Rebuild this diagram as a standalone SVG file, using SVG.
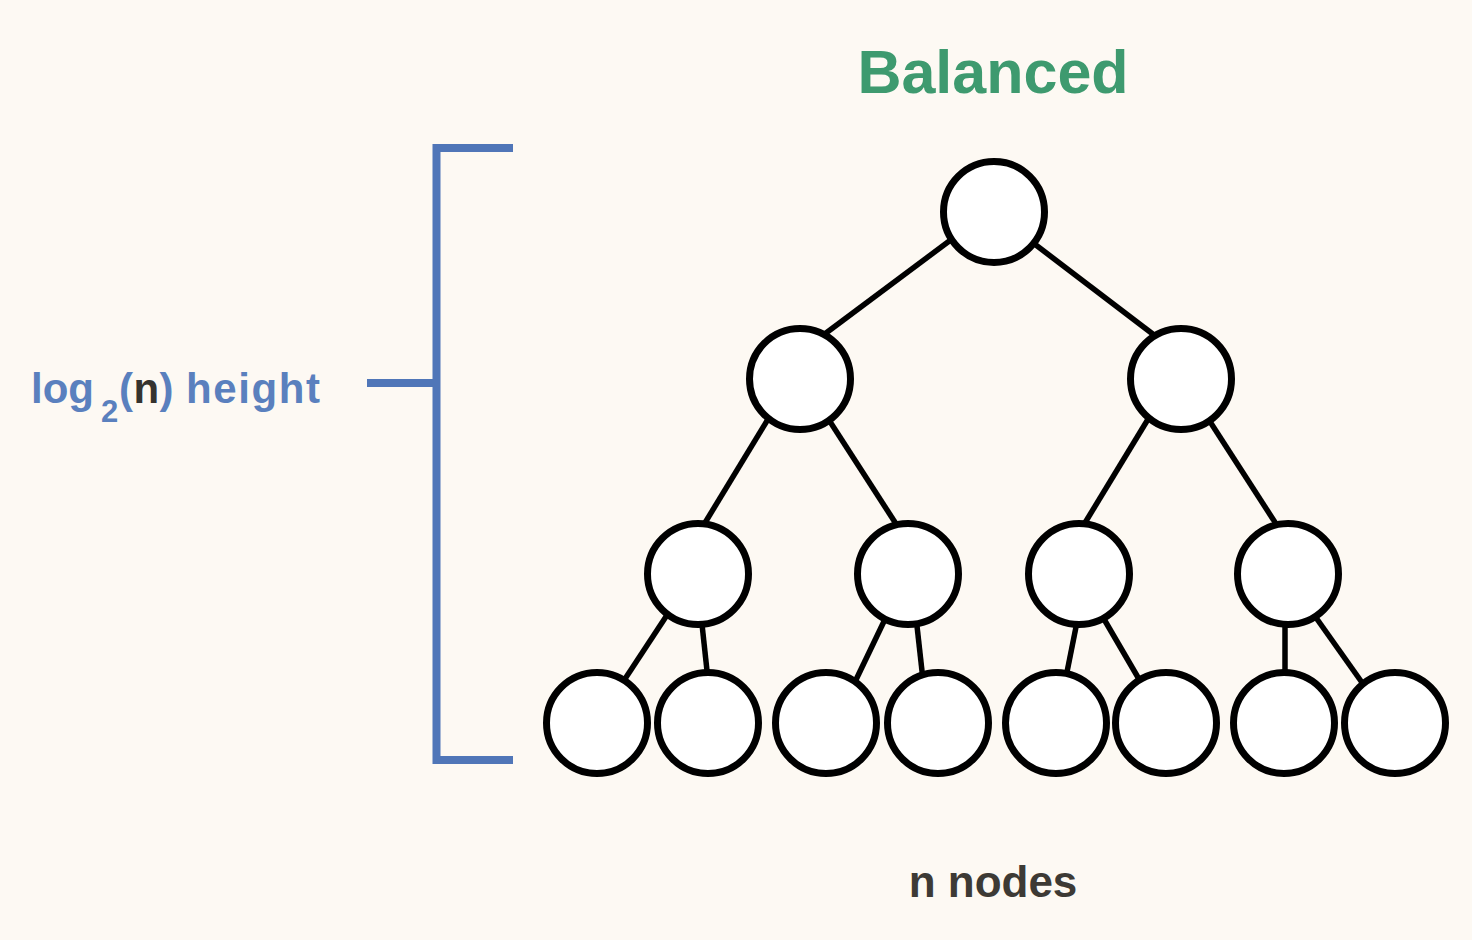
<svg xmlns="http://www.w3.org/2000/svg" width="1472" height="940" viewBox="0 0 1472 940">
<style>
.node{fill:#ffffff;stroke:#000000;stroke-width:7}
.edge{stroke:#000000;stroke-width:5.5;stroke-linecap:butt}
.br{stroke:#5076B8;stroke-width:8;fill:none}
.lab{font-family:"Liberation Sans",Arial,sans-serif;font-weight:bold}
</style>
<rect width="1472" height="940" fill="#FDF9F3"/>
<text class="lab" x="993" y="93" font-size="61" fill="#3E9A6F" text-anchor="middle">Balanced</text>
<g id="bracket">
<polyline class="br" points="513,148 436.5,148 436.5,760 513,760"/>
<line class="br" x1="367" y1="383" x2="436.5" y2="383"/>
</g>
<text class="lab" font-size="42" fill="#5A80BE"><tspan x="31" y="403">log</tspan><tspan x="101" y="422" font-size="31">2</tspan><tspan x="119" y="403">(</tspan><tspan x="133.5" y="403" fill="#35332f">n</tspan><tspan x="159.5" y="403">)</tspan><tspan x="186" y="403" textLength="134">height</tspan></text>
<g id="connectors">
<line class="edge" x1="956" y1="236" x2="822" y2="336"/>
<line class="edge" x1="1028" y1="239" x2="1158" y2="338"/>
<line class="edge" x1="773" y1="411" x2="700" y2="531"/>
<line class="edge" x1="827" y1="417" x2="900" y2="530"/>
<line class="edge" x1="1153" y1="411" x2="1080" y2="531"/>
<line class="edge" x1="1207" y1="417" x2="1280" y2="530"/>
<line class="edge" x1="671" y1="609" x2="619" y2="688"/>
<line class="edge" x1="701" y1="615" x2="708" y2="680"/>
<line class="edge" x1="888" y1="613" x2="853" y2="686"/>
<line class="edge" x1="916" y1="617" x2="923" y2="680"/>
<line class="edge" x1="1078" y1="617" x2="1065" y2="682"/>
<line class="edge" x1="1101" y1="614" x2="1143" y2="686"/>
<line class="edge" x1="1285" y1="617" x2="1285" y2="680"/>
<line class="edge" x1="1312" y1="612" x2="1368" y2="691"/>
</g>
<g id="n1"><circle class="node" cx="994" cy="212" r="50.5"/></g>
<g id="n2"><circle class="node" cx="800" cy="379" r="50.5"/></g>
<g id="n3"><circle class="node" cx="1181" cy="379" r="50.5"/></g>
<g id="n4"><circle class="node" cx="698" cy="574" r="50.5"/></g>
<g id="n5"><circle class="node" cx="908" cy="574" r="50.5"/></g>
<g id="n6"><circle class="node" cx="1079" cy="574" r="50.5"/></g>
<g id="n7"><circle class="node" cx="1288" cy="574" r="50.5"/></g>
<g id="n8"><circle class="node" cx="597" cy="723" r="50.5"/></g>
<g id="n9"><circle class="node" cx="708" cy="723" r="50.5"/></g>
<g id="n10"><circle class="node" cx="826" cy="723" r="50.5"/></g>
<g id="n11"><circle class="node" cx="938" cy="723" r="50.5"/></g>
<g id="n12"><circle class="node" cx="1056" cy="723" r="50.5"/></g>
<g id="n13"><circle class="node" cx="1166" cy="723" r="50.5"/></g>
<g id="n14"><circle class="node" cx="1284" cy="723" r="50.5"/></g>
<g id="n15"><circle class="node" cx="1395" cy="723" r="50.5"/></g>
<text class="lab" x="993" y="897" font-size="44" fill="#3D3A35" text-anchor="middle">n nodes</text>
</svg>
